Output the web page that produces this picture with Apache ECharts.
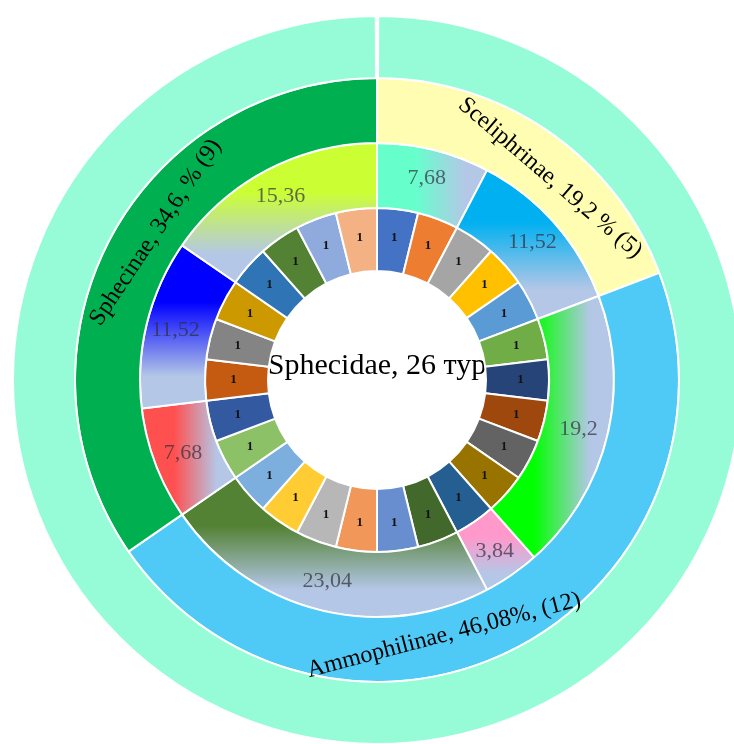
<!DOCTYPE html>
<html>
<head>
<meta charset="utf-8">
<script src="https://cdn.jsdelivr.net/npm/echarts@6/dist/echarts.min.js"></script>
<style>html,body{margin:0;padding:0;background:#fff}#c{width:734px;height:744px}</style>
</head>
<body>
<div id="c"></div>
<script>
// ---- data ----
const familyLabel = 'Sphecidae, 26 тур';
const familyTotal = 26;

const subfamilyNames = ['Sceliphrinae', 'Ammophilinae', 'Sphecinae'];
const subfamilyCounts = [5, 12, 9];
const subfamilyLabels = ['Sceliphrinae, 19,2 % (5)', 'Ammophilinae, 46,08%, (12)', 'Sphecinae, 34,6, % (9)'];
const subfamilyColors = ['#FFFDB2', '#4FC9F5', '#00B050'];

const genusValues = [7.68, 11.52, 19.2, 3.84, 23.04, 7.68, 11.52, 15.36];
const genusColors = ['#66FFCC', '#00B0F0', '#00FF00', '#FF99CC', '#548235', '#FF5050', '#0000FF', '#CCFF33'];
const genusGradientDir = ['h', 'v', 'h', 'v', 'v', 'h', 'v', 'v'];
const gradientEnd = '#B4C7E7';

const speciesValues = Array(26).fill(1);
const speciesColors = [
  '#4472C4', '#ED7D31', '#A5A5A5', '#FFC000', '#5B9BD5', '#70AD47',
  '#264478', '#9E480E', '#636363', '#997300', '#255E91', '#43682B',
  '#698ED0', '#F1975A', '#B7B7B7', '#FFCD33', '#7CAFDD', '#8CC168',
  '#335AA1', '#C55A11', '#848484', '#CC9A00', '#2F75B5', '#548235',
  '#8FAADC', '#F4B183'
];

// ---- layout / style ----
const center = [377, 380];
const serif = 'Liberation Serif, Times New Roman, serif';
const subLabelRadius = [266, 264, 266];
const subLabelAngleShift = [-6, -13, -6]; // degrees, clockwise shift of label centre

function grad(color, dir) {
  return new echarts.graphic.LinearGradient(0, 0, dir === 'h' ? 1 : 0, dir === 'h' ? 0 : 1, [
    { offset: 0, color: color },
    { offset: 0.35, color: color },
    { offset: 0.8, color: gradientEnd },
    { offset: 1, color: gradientEnd }
  ]);
}

const subTotal = subfamilyCounts.reduce((a, b) => a + b, 0);
function subLabelLayout(params) {
  const i = params.dataIndex;
  let cum = 0;
  for (let k = 0; k < i; k++) cum += subfamilyCounts[k];
  let theta = 90 - 360 * (cum + subfamilyCounts[i] / 2) / subTotal + subLabelAngleShift[i];
  while (theta > 180) theta -= 360;
  while (theta <= -180) theta += 360;
  const rad = theta * Math.PI / 180;
  const x = center[0] + subLabelRadius[i] * Math.cos(rad);
  const y = center[1] - subLabelRadius[i] * Math.sin(rad);
  const rotate = theta >= 0 ? theta - 90 : theta + 90;
  return { x: x, y: y, rotate: rotate, align: 'center', verticalAlign: 'middle' };
}

const border = { borderColor: '#ffffff', borderWidth: 2 };

const chart = echarts.init(document.getElementById('c'), null, { renderer: 'canvas' });
chart.setOption({
  backgroundColor: '#ffffff',
  animation: false,
  graphic: [{
    type: 'text', x: center[0], y: center[1] - 14, silent: true,
    style: { text: familyLabel, fill: '#000', font: '30px ' + serif, align: 'center', verticalAlign: 'middle' }
  }],
  series: [
    {
      type: 'pie', center: center, radius: [109, 172], startAngle: 90, silent: true,
      data: speciesValues.map((v, i) => ({ value: v, name: 's' + i, itemStyle: { color: speciesColors[i] } })),
      itemStyle: border,
      label: { show: true, position: 'inside', formatter: '{c}', color: '#111', fontFamily: serif, fontWeight: 'bold', fontSize: 13 },
      labelLine: { show: false }
    },
    {
      type: 'pie', center: center, radius: [172, 237], startAngle: 90, silent: true,
      data: genusValues.map((v, i) => ({ value: v, name: 'g' + i, itemStyle: { color: grad(genusColors[i], genusGradientDir[i]) } })),
      itemStyle: border,
      label: { show: true, position: 'inside', formatter: p => String(p.value).replace('.', ','), color: 'rgba(45,45,60,0.7)', fontFamily: serif, fontSize: 22 },
      labelLine: { show: false }
    },
    {
      type: 'pie', center: center, radius: [237, 302], startAngle: 90, silent: true,
      data: subfamilyCounts.map((v, i) => ({ value: v, name: subfamilyNames[i], itemStyle: { color: subfamilyColors[i] }, label: { formatter: subfamilyLabels[i] } })),
      itemStyle: border,
      label: { show: true, position: 'inside', color: '#000', fontFamily: serif, fontSize: 24 },
      labelLayout: subLabelLayout,
      labelLine: { show: false }
    },
    {
      type: 'pie', center: center, radius: [302, 364], startAngle: 89.8, endAngle: -269.8, silent: true,
      data: [{ value: familyTotal, name: 'Sphecidae' }],
      itemStyle: { color: '#96FCD8', borderColor: '#ffffff', borderWidth: 2 },
      label: { show: false }, labelLine: { show: false }
    }
  ]
});
</script>
</body>
</html>
